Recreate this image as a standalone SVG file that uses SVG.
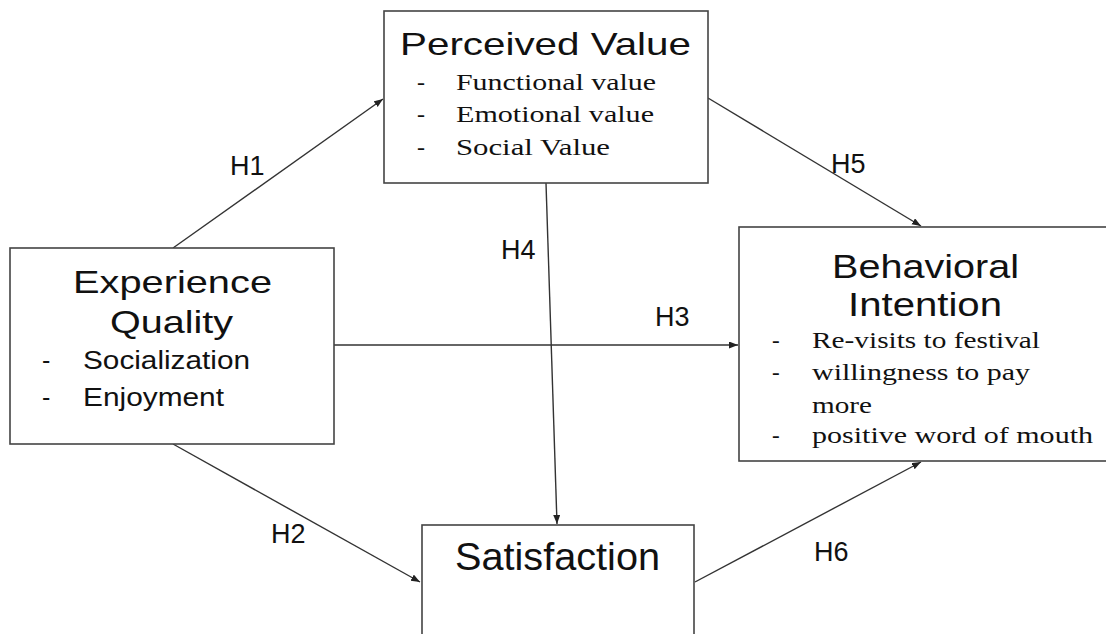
<svg xmlns="http://www.w3.org/2000/svg" width="1106" height="634" viewBox="0 0 1106 634">
<style>
.box{fill:#fff;stroke:#444;stroke-width:1.6}
.title{font-family:"Liberation Sans",Arial,sans-serif;fill:#111}
.sans{font-family:"Liberation Sans",Arial,sans-serif;fill:#111}
.serif{font-family:"Liberation Serif","Times New Roman",serif;fill:#111}
.lbl{font-family:"Liberation Sans",Arial,sans-serif;font-size:27px;fill:#111}
.conn{stroke:#333;stroke-width:1.4;fill:none;marker-end:url(#arr)}
</style>
<defs>
<marker id="arr" markerUnits="userSpaceOnUse" markerWidth="10" markerHeight="8" refX="9" refY="3.5" orient="auto">
<path d="M0,0 L9,3.5 L0,7 z" fill="#222"/>
</marker>
</defs>
<g id="connectors">
<line class="conn" x1="173" y1="248" x2="383" y2="99"/>
<line class="conn" x1="708" y1="98" x2="921" y2="226"/>
<line class="conn" x1="173" y1="444" x2="420" y2="582"/>
<line class="conn" x1="546" y1="183" x2="557" y2="524"/>
<line class="conn" x1="334" y1="345" x2="738" y2="345"/>
<line class="conn" x1="695" y1="582" x2="921" y2="462"/>
<text class="lbl" x="230" y="175">H1</text>
<text class="lbl" x="271" y="543">H2</text>
<text class="lbl" x="655" y="326">H3</text>
<text class="lbl" x="501" y="259">H4</text>
<text class="lbl" x="831" y="173">H5</text>
<text class="lbl" x="814" y="561">H6</text>
</g>
<g id="perceived-value">
<rect class="box" x="384" y="11" width="324" height="172"/>
<text class="title" x="400" y="55" font-size="32" textLength="291" lengthAdjust="spacingAndGlyphs">Perceived Value</text>
<text class="serif" font-size="24" x="417" y="90">-</text>
<text class="serif" font-size="24" x="456" y="90" textLength="200" lengthAdjust="spacingAndGlyphs">Functional value</text>
<text class="serif" font-size="24" x="417" y="122">-</text>
<text class="serif" font-size="24" x="456" y="122" textLength="198" lengthAdjust="spacingAndGlyphs">Emotional value</text>
<text class="serif" font-size="24" x="417" y="155">-</text>
<text class="serif" font-size="24" x="456" y="155" textLength="154" lengthAdjust="spacingAndGlyphs">Social Value</text>
</g>
<g id="experience-quality">
<rect class="box" x="10" y="248" width="324" height="196"/>
<text class="title" x="73" y="293" font-size="32" textLength="199" lengthAdjust="spacingAndGlyphs">Experience</text>
<text class="title" x="110" y="333" font-size="32" textLength="123" lengthAdjust="spacingAndGlyphs">Quality</text>
<text class="sans" font-size="25" x="42" y="369">-</text>
<text class="sans" font-size="25" x="83" y="369" textLength="167" lengthAdjust="spacingAndGlyphs">Socialization</text>
<text class="sans" font-size="25" x="42" y="406">-</text>
<text class="sans" font-size="25" x="83" y="406" textLength="141" lengthAdjust="spacingAndGlyphs">Enjoyment</text>
</g>
<g id="behavioral-intention">
<rect class="box" x="739" y="227" width="380" height="234"/>
<text class="title" x="832" y="278" font-size="33" textLength="187" lengthAdjust="spacingAndGlyphs">Behavioral</text>
<text class="title" x="848" y="316" font-size="33" textLength="154" lengthAdjust="spacingAndGlyphs">Intention</text>
<text class="serif" font-size="23" x="772" y="348">-</text>
<text class="serif" font-size="23" x="812" y="348" textLength="228" lengthAdjust="spacingAndGlyphs">Re-visits to festival</text>
<text class="serif" font-size="23" x="772" y="380">-</text>
<text class="serif" font-size="23" x="812" y="380" textLength="218" lengthAdjust="spacingAndGlyphs">willingness to pay</text>
<text class="serif" font-size="23" x="812" y="413" textLength="60" lengthAdjust="spacingAndGlyphs">more</text>
<text class="serif" font-size="23" x="772" y="443">-</text>
<text class="serif" font-size="23" x="812" y="443" textLength="281" lengthAdjust="spacingAndGlyphs">positive word of mouth</text>
</g>
<g id="satisfaction">
<rect class="box" x="422" y="525" width="272" height="130"/>
<text class="title" x="455" y="570" font-size="38" textLength="205" lengthAdjust="spacingAndGlyphs">Satisfaction</text>
</g>
</svg>
